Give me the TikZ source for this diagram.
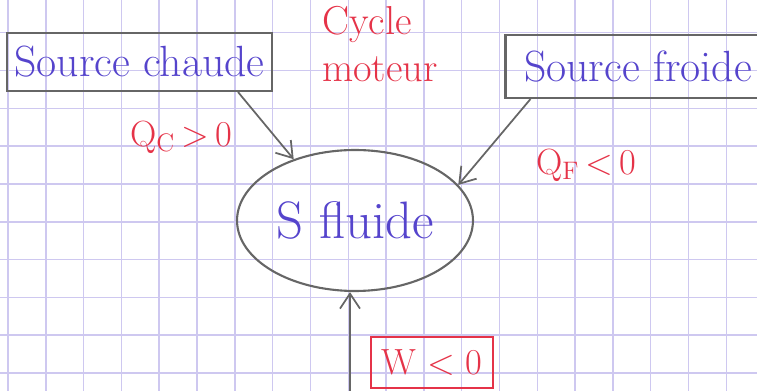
\documentclass[tikz,border=0pt]{standalone}
\usepackage{tikz}
\usetikzlibrary{arrows.meta,shapes.geometric}
\definecolor{ink}{HTML}{5544CC}
\definecolor{redink}{HTML}{E53348}
\definecolor{pencil}{HTML}{666666}
\definecolor{grille}{HTML}{CEC8F0}

\begin{document}
\begin{tikzpicture}[x=0.02cm,y=-0.02cm,
    source/.style={draw=pencil,line width=1.2pt,rectangle,inner sep=0pt,font=\Huge,text=ink},
    etiq/.style={text=redink,font=\huge},
    fleche/.style={draw=pencil,line width=1pt,-{Straight Barb[length=3mm,width=4mm]}}]
  \useasboundingbox (0,0) rectangle (757,391);
  \clip (0,0) rectangle (757,391);
  % papier quadrille
  \foreach \i in {0,...,19}
    \draw[grille,line width=0.8pt] ({8+37.8*\i},0) -- ({8+37.8*\i},391);
  \foreach \j in {0,...,10}
    \draw[grille,line width=0.8pt] (0,{-5+37.8*\j}) -- (757,{-5+37.8*\j});

  \node[source,minimum width=5.3cm,minimum height=1.16cm] (chaude) at (139.5,62) {Source chaude};
  \node[source,minimum width=5.3cm,minimum height=1.26cm] (froide) at (638,66.5) {Source froide};
  \node[etiq,font=\fontsize{23}{27}\selectfont,align=left,anchor=north west] (cycle) at (316,0) {Cycle\\moteur};

  \node[draw=pencil,line width=1.2pt,ellipse,minimum width=4.72cm,minimum height=2.82cm,
        inner sep=0pt,font=\fontsize{30}{36}\selectfont,text=ink] (fluide) at (355,220.5) {S fluide};

  \node[etiq] (qc) at (181,137) {Q\textsubscript{C}\,>\,0};
  \node[etiq] (qf) at (586,165) {Q\textsubscript{F}\,<\,0};

  \node[etiq,draw=redink,line width=1pt,minimum width=2.44cm,minimum height=1.02cm] (travail) at (432,362.5) {W < 0};
  \coordinate (bas) at (350,395);

  \draw[fleche] (chaude.south east) ++(-35,0) -- (fluide.135);
  \draw[fleche] (froide.south west) ++(26,0) -- (fluide.19);
  \draw[fleche] (bas) -- (bas |- fluide.south);
\end{tikzpicture}
\end{document}
